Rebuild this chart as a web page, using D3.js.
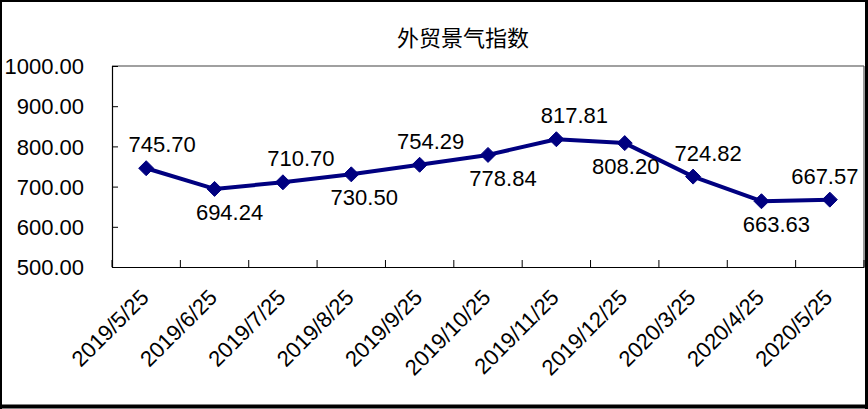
<!DOCTYPE html>
<html><head><meta charset="utf-8">
<script src="https://cdn.jsdelivr.net/npm/d3@7"></script>
<style>html,body{margin:0;padding:0;background:#fff;}svg{display:block;}</style>
</head><body>
<svg id="c" width="868" height="409"></svg>
<script>
const categories = ["2019/5/25","2019/6/25","2019/7/25","2019/8/25","2019/9/25","2019/10/25","2019/11/25","2019/12/25","2020/3/25","2020/4/25","2020/5/25"];
const values = [745.70, 694.24, 710.70, 730.50, 754.29, 778.84, 817.81, 808.20, 724.82, 663.63, 667.57];
const yTicks = [500, 600, 700, 800, 900, 1000];
const title = "外贸景气指数";
// label placement (layout only)
const labelSide = [-1, 1, -1, 1, -1, 1, -1, 1, -1, 1, -1];
const labelDx = [16, 15, 18, 13, 11, 15, 18, 1, 15, 15, -5];

const svg = d3.select("#c");
const W = 868, H = 409;
const L = 112, R = 864, T = 66, B = 267;
const font = "'Liberation Sans', Arial, sans-serif";
const navy = "#000080";

svg.append("rect").attr("width", W).attr("height", H).attr("fill", "#fff");

const x = d3.scaleBand().domain(categories).range([L, R]).padding(0);
const y = d3.scaleLinear().domain([500, 1000]).range([B, T]);

// plot frame
svg.append("line").attr("x1", L).attr("x2", R).attr("y1", T).attr("y2", T).attr("stroke", "#808080").attr("stroke-width", 1.5);
svg.append("line").attr("x1", R).attr("x2", R).attr("y1", T).attr("y2", B).attr("stroke", "#555").attr("stroke-width", 1.2);

// y axis
const yAxis = d3.axisLeft(y).tickValues(yTicks).tickSize(-6).tickPadding(28).tickFormat(d3.format(".2f"));
const gy = svg.append("g").attr("transform", `translate(${L},0)`).call(yAxis);
gy.select(".domain").attr("stroke", "#000").attr("stroke-width", 1.2);
gy.selectAll(".tick line").attr("stroke", "#000");
gy.selectAll(".tick text").attr("font-family", font).attr("font-size", 22).attr("fill", "#000").attr("dy", "0.35em");

// x axis
const xAxis = d3.axisBottom(x).tickSize(0).tickFormat(d => d);
const gx = svg.append("g").attr("transform", `translate(0,${B})`).call(xAxis);
gx.select(".domain").attr("stroke", "#000").attr("stroke-width", 1.2);
gx.selectAll(".tick text")
  .attr("font-family", font).attr("font-size", 22).attr("fill", "#000")
  .attr("text-anchor", "end")
  .attr("transform", "translate(-7,21) rotate(-45)")
  .attr("dy", "0.7em").attr("y", 0).attr("x", 0);
// boundary tick marks (inward)
const bounds = categories.map(c => x(c)).concat([R]);
gx.selectAll(".btick").data(bounds).enter().append("line")
  .attr("x1", d => d).attr("x2", d => d).attr("y1", 0).attr("y2", -7)
  .attr("stroke", "#000").attr("stroke-width", 1);

// line
const cx = c => x(c) + x.bandwidth() / 2;
const line = d3.line().x((d, i) => cx(categories[i])).y(d => y(d));
svg.append("path").datum(values).attr("d", line)
  .attr("fill", "none").attr("stroke", navy).attr("stroke-width", 4).attr("stroke-linejoin", "round");

// diamond markers
const dr = 7.5;
svg.selectAll(".mk").data(values).enter().append("path")
  .attr("d", (d, i) => {
    const px = cx(categories[i]), py = y(d);
    return `M${px},${py - dr}L${px + dr},${py}L${px},${py + dr}L${px - dr},${py}Z`;
  })
  .attr("fill", navy).attr("stroke", navy).attr("stroke-width", 1);

// data labels
svg.selectAll(".lbl").data(values).enter().append("text")
  .attr("x", (d, i) => cx(categories[i]) + labelDx[i])
  .attr("y", (d, i) => y(d) + (labelSide[i] < 0 ? -16 : 31))
  .attr("text-anchor", "middle")
  .attr("font-family", font).attr("font-size", 22).attr("fill", "#000")
  .text(d => d.toFixed(2));

// title
svg.append("text").attr("x", 463).attr("y", 46).attr("text-anchor", "middle")
  .attr("font-family", "'Noto Sans CJK SC', sans-serif").attr("font-size", 22).attr("fill", "#000")
  .text(title);

// outer border
svg.append("line").attr("x1", 1).attr("x2", 1).attr("y1", 0).attr("y2", H).attr("stroke", "#000").attr("stroke-width", 2);
svg.append("line").attr("x1", 0).attr("x2", W).attr("y1", 1).attr("y2", 1).attr("stroke", "#000").attr("stroke-width", 2);
svg.append("line").attr("x1", W - 1.5).attr("x2", W - 1.5).attr("y1", 0).attr("y2", H).attr("stroke", "#000").attr("stroke-width", 3);
svg.append("line").attr("x1", 0).attr("x2", W).attr("y1", H - 2.5).attr("y2", H - 2.5).attr("stroke", "#000").attr("stroke-width", 4);
</script>
</body></html>
